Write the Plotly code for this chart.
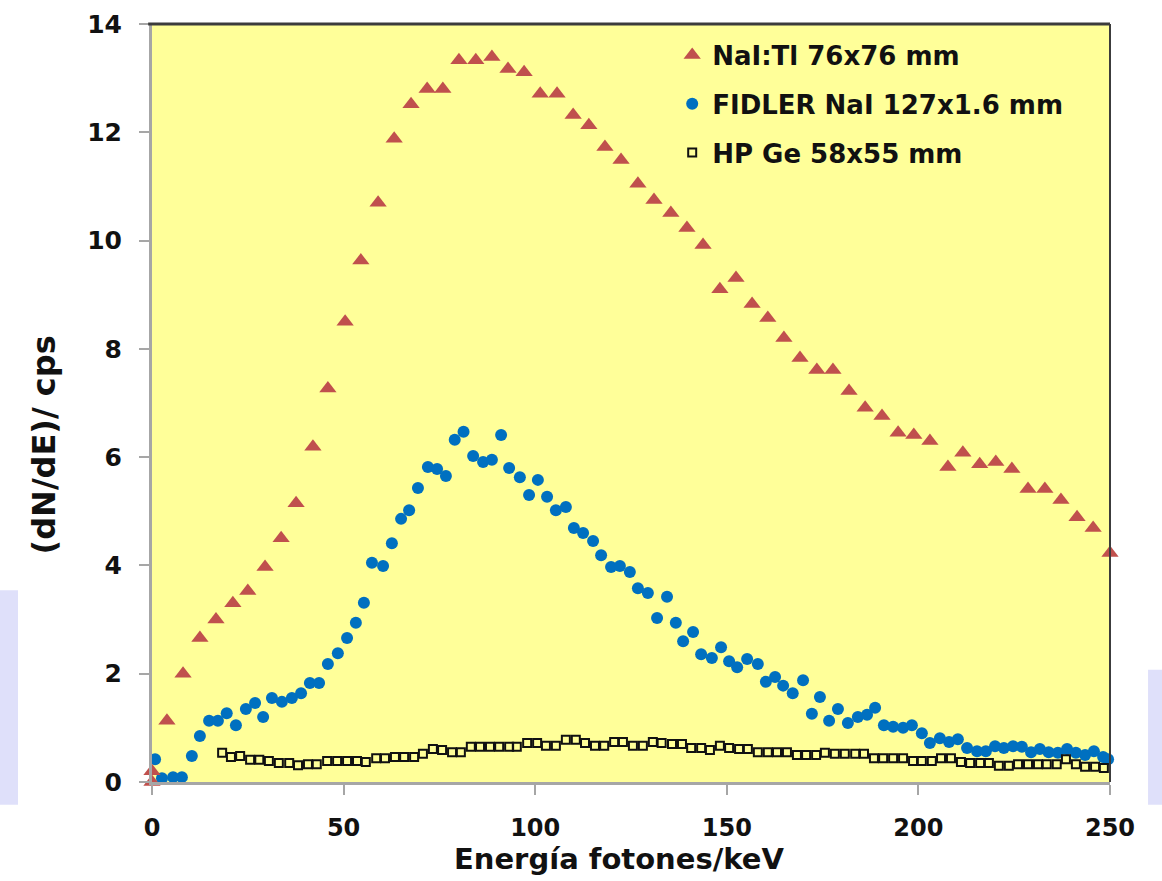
import plotly.graph_objects as go

# Photon energy spectra (counts per second per keV) for three detectors
nai_energy = [0, 0, 3.9, 8.1, 12.5, 16.7, 21.1, 25.0, 29.5, 33.7, 37.6, 42.0, 45.9, 50.4, 54.5,
              59.0, 63.2, 67.6, 71.8, 75.9, 80.1, 84.5, 88.7, 92.9, 97.1, 101.3, 105.7, 109.9,
              114.0, 118.2, 122.4, 126.8, 131.0, 135.4, 139.6, 143.8, 148.2, 152.4, 156.6, 160.7,
              164.9, 169.1, 173.5, 177.7, 181.9, 186.1, 190.5, 194.7, 198.8, 203.0, 207.7, 211.6,
              216.0, 220.2, 224.4, 228.6, 233.0, 237.2, 241.4, 245.6, 250.0]
nai_counts = [0.0, 0.2, 1.13, 2.0, 2.66, 3.0, 3.3, 3.53, 3.97, 4.5, 5.15, 6.19, 7.27, 8.5, 9.63,
              10.7, 11.88, 12.52, 12.8, 12.8, 13.33, 13.33, 13.39, 13.17, 13.11, 12.71, 12.71, 12.32,
              12.13, 11.73, 11.49, 11.05, 10.75, 10.51, 10.23, 9.92, 9.1, 9.31, 8.83, 8.57,
              8.2, 7.83, 7.61, 7.61, 7.22, 6.91, 6.76, 6.45, 6.41, 6.3, 5.82, 6.08,
              5.87, 5.91, 5.78, 5.41, 5.41, 5.21, 4.89, 4.69, 4.23]

fidler_energy = [0.8, 2.6, 5.5, 7.8, 10.4, 12.5, 14.9, 17.2, 19.5, 21.9, 24.5, 26.9, 29.0, 31.3,
                 33.9, 36.5, 38.9, 41.2, 43.6, 45.9, 48.5, 50.9, 53.2, 55.3, 57.4, 60.3, 62.6,
                 65.0, 67.1, 69.4, 72.0, 74.4, 76.7, 79.0, 81.3, 83.8, 86.4, 88.7, 91.1, 93.2,
                 96.0, 98.4, 100.7, 103.1, 105.4, 108.0, 110.1, 112.5, 115.1, 117.2, 119.8, 122.1,
                 124.7, 126.8, 129.4, 131.8, 134.4, 136.7, 138.6, 141.2, 143.3, 146.1, 148.5,
                 150.6, 152.7, 155.3, 158.1, 160.2, 162.6, 164.7, 167.2, 169.9, 172.2, 174.3,
                 176.7, 179.0, 181.6, 184.2, 186.6, 188.7, 191.0, 193.4, 196.0, 198.3, 200.9,
                 203.0, 205.6, 208.0, 210.3, 212.7, 215.3, 217.6, 220.0, 222.3, 224.7, 227.0,
                 229.4, 231.7, 234.0, 236.4, 238.8, 241.1, 243.5, 245.8, 248.2, 249.5]
fidler_counts = [0.42, 0.07, 0.09, 0.09, 0.48, 0.85, 1.13, 1.13, 1.27, 1.05, 1.35, 1.46, 1.2, 1.55,
                 1.48, 1.55, 1.64, 1.83, 1.83, 2.18, 2.38, 2.66, 2.94, 3.31, 4.05, 3.99, 4.41,
                 4.86, 5.02, 5.43, 5.82, 5.78, 5.65, 6.32, 6.47, 6.02, 5.91, 5.95, 6.41, 5.80,
                 5.63, 5.30, 5.58, 5.27, 5.02, 5.08, 4.69, 4.60, 4.45, 4.19, 3.97, 3.99,
                 3.88, 3.58, 3.49, 3.03, 3.42, 2.94, 2.60, 2.77, 2.36, 2.29, 2.49,
                 2.23, 2.12, 2.27, 2.18, 1.85, 1.94, 1.78, 1.64, 1.88, 1.26, 1.57,
                 1.13, 1.35, 1.09, 1.20, 1.24, 1.37, 1.05, 1.02, 1.00, 1.05, 0.90,
                 0.72, 0.81, 0.74, 0.79, 0.63, 0.57, 0.57, 0.66, 0.63, 0.66, 0.65,
                 0.55, 0.61, 0.55, 0.54, 0.61, 0.54, 0.50, 0.57, 0.46, 0.42]

hpge_energy = [18.3, 20.6, 23.0, 25.6, 28.0, 30.5, 33.1, 35.8, 38.1, 40.7, 43.0, 45.7, 48.3, 50.9,
               53.5, 55.8, 58.5, 60.8, 63.4, 65.8, 68.4, 70.7, 73.3, 75.7, 78.3, 80.6, 83.2, 85.6,
               88.2, 90.6, 93.2, 95.2, 97.9, 100.5, 102.8, 105.4, 108.0, 110.6, 113.0, 115.6,
               118.0, 120.6, 122.9, 125.5, 128.1, 130.7, 133.0, 135.7, 138.3, 140.7, 143.3, 145.6,
               148.2, 150.6, 153.2, 155.5, 158.1, 160.7, 163.1, 165.7, 168.3, 170.7, 173.3, 175.6,
               178.2, 180.8, 183.5, 185.8, 188.4, 190.8, 193.4, 196.0, 198.6, 200.9, 203.5, 205.9,
               208.5, 211.1, 213.5, 216.1, 218.4, 221.0, 223.6, 226.0, 228.6, 231.2, 233.5, 236.1,
               238.5, 241.1, 243.5, 246.1, 248.4]
hpge_counts = [0.54, 0.46, 0.48, 0.41, 0.41, 0.39, 0.35, 0.35, 0.31, 0.33, 0.33, 0.39, 0.39, 0.39,
               0.39, 0.37, 0.44, 0.44, 0.46, 0.46, 0.46, 0.52, 0.61, 0.59, 0.55, 0.55, 0.65, 0.65,
               0.65, 0.65, 0.65, 0.65, 0.72, 0.72, 0.67, 0.67, 0.78, 0.78, 0.72, 0.67,
               0.67, 0.74, 0.74, 0.67, 0.67, 0.74, 0.72, 0.70, 0.70, 0.63, 0.63, 0.59,
               0.67, 0.63, 0.61, 0.61, 0.55, 0.55, 0.55, 0.55, 0.50, 0.50, 0.50, 0.54,
               0.52, 0.52, 0.52, 0.52, 0.44, 0.44, 0.44, 0.44, 0.39, 0.39, 0.39, 0.44,
               0.44, 0.37, 0.35, 0.35, 0.35, 0.30, 0.30, 0.33, 0.33, 0.33, 0.33, 0.33,
               0.42, 0.33, 0.28, 0.28, 0.26]

series_names = ["NaI:Tl 76x76 mm", "FIDLER NaI 127x1.6 mm", "HP Ge 58x55 mm"]
x_ticks = [0, 50, 100, 150, 200, 250]
y_ticks = [0, 2, 4, 6, 8, 10, 12, 14]
x_title = "Energía fotones/keV"
y_title = "(dN/dE)/ cps"

FONT = "DejaVu Sans, Verdana, sans-serif"
AXIS_GREY = "#a6a6a6"
PLOT_YELLOW = "#FFFF99"
TEXT = "#111111"

fig = go.Figure()

fig.add_trace(go.Scatter(
    x=fidler_energy, y=fidler_counts, mode="markers", name=series_names[1],
    legendrank=2, legendgroup="b", cliponaxis=False,
    marker=dict(symbol="circle", size=12, color="#0070C0", line=dict(width=0)),
))
fig.add_trace(go.Scatter(
    x=hpge_energy, y=hpge_counts, mode="markers", name=series_names[2],
    legendrank=3, legendgroup="c", cliponaxis=False,
    marker=dict(symbol="square-open", size=8, color=TEXT, line=dict(width=2)),
))
fig.add_trace(go.Scatter(
    x=nai_energy, y=nai_counts, mode="markers", name=series_names[0],
    legendrank=1, legendgroup="a", cliponaxis=False,
    marker=dict(symbol="triangle-up", size=15, color="#C0504D", line=dict(width=0)),
))

# soft lavender decorations at the page edges
for x0, x1, y0, y1 in [(-0.1587, -0.1399, -0.03, 0.253), (1.0397, 1.06, -0.03, 0.148)]:
    fig.add_shape(type="rect", xref="paper", yref="paper", x0=x0, x1=x1, y0=y0, y1=y1,
                  fillcolor="#dfe0fa", line=dict(width=0), layer="below")

# dark frame on the top and right sides of the plot area
fig.add_shape(type="line", xref="paper", yref="paper", x0=-0.004, x1=1.0, y0=1.0, y1=1.0,
              line=dict(color="#3c3c3c", width=3))
fig.add_shape(type="line", xref="paper", yref="paper", x0=1.0, x1=1.0, y0=0.0, y1=1.0,
              line=dict(color="#3c3c3c", width=2))

# axis titles
fig.add_annotation(text=x_title, xref="paper", yref="paper", x=0.487, y=-0.127,
                   xanchor="center", yanchor="bottom", showarrow=False,
                   font=dict(family=FONT, size=29, color=TEXT, weight="bold"))
fig.add_annotation(text=y_title, xref="paper", yref="paper", x=-0.113, y=0.445,
                   xanchor="center", yanchor="middle", textangle=-90, showarrow=False,
                   font=dict(family=FONT, size=32, color=TEXT, weight="bold"))

fig.update_layout(
    width=1162, height=881,
    margin=dict(l=152, r=52, t=24, b=99, autoexpand=False),
    paper_bgcolor="white",
    plot_bgcolor=PLOT_YELLOW,
    font=dict(family=FONT, color=TEXT),
    showlegend=True,
    legend=dict(
        x=0.543, y=0.99, xanchor="left", yanchor="top",
        bgcolor="rgba(0,0,0,0)", borderwidth=0,
        font=dict(family=FONT, size=26, color=TEXT, weight="bold"),
        tracegroupgap=12, itemwidth=30,
    ),
    xaxis=dict(
        range=[0, 250], tickvals=x_ticks, ticktext=[str(v) for v in x_ticks],
        showgrid=False, zeroline=False, automargin=False,
        showline=True, linecolor=AXIS_GREY, linewidth=3,
        ticks="outside", ticklen=10, tickwidth=2, tickcolor=AXIS_GREY,
        ticklabelstandoff=12,
        tickfont=dict(family=FONT, size=24, color=TEXT, weight="bold"),
    ),
    yaxis=dict(
        range=[0, 14], tickvals=y_ticks, ticktext=[str(v) for v in y_ticks],
        showgrid=False, zeroline=False, automargin=False,
        showline=True, linecolor=AXIS_GREY, linewidth=3,
        ticks="outside", ticklen=10, tickwidth=2, tickcolor=AXIS_GREY,
        ticklabelstandoff=12,
        tickfont=dict(family=FONT, size=25, color=TEXT, weight="bold"),
    ),
)

fig.write_html("out.html")
